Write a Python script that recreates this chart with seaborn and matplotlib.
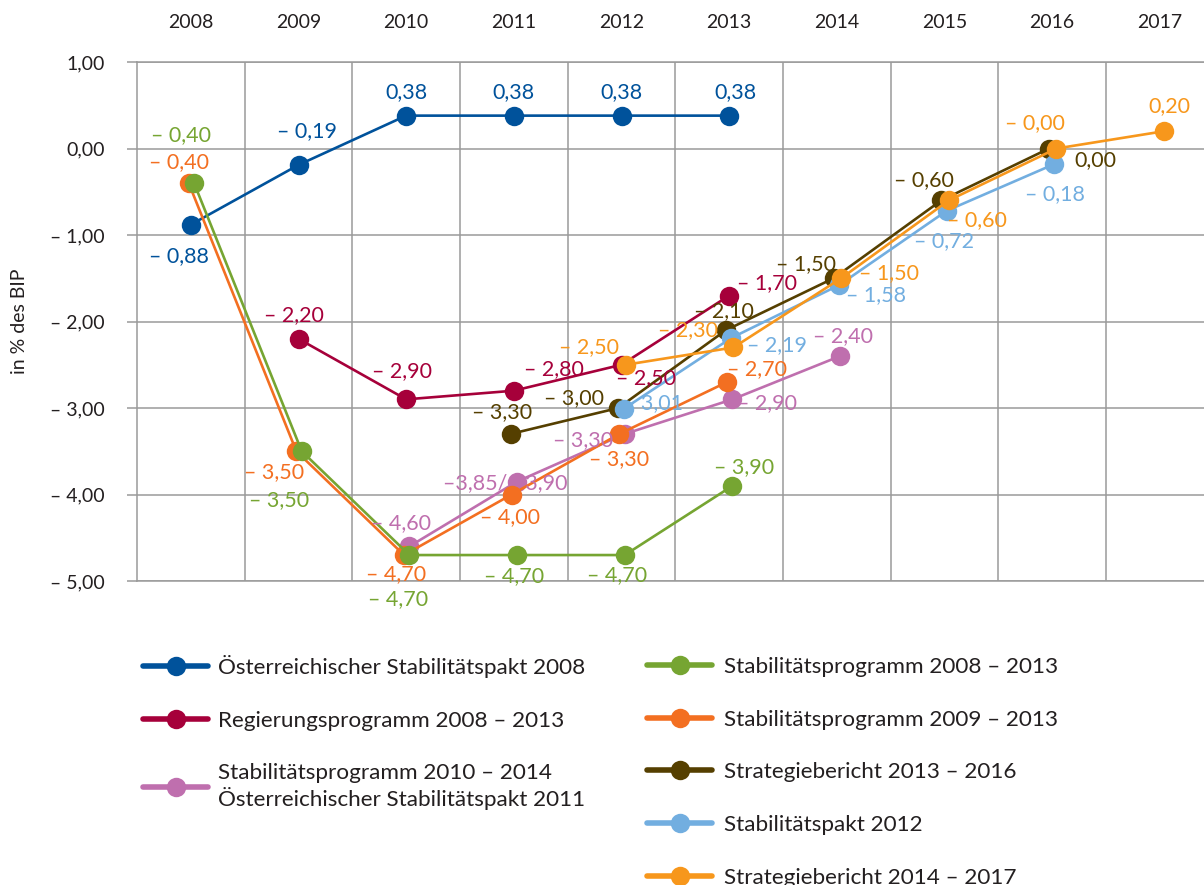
import matplotlib
matplotlib.use('Agg')
import matplotlib.pyplot as plt
from matplotlib.lines import Line2D
import seaborn as sns

# x axis categories
years = [2008, 2009, 2010, 2011, 2012, 2013, 2014, 2015, 2016, 2017]

# series (budget balance in % of GDP)
stp08_years = [2008, 2009, 2010, 2011, 2012, 2013]
stp08_vals = [-0.88, -0.19, 0.38, 0.38, 0.38, 0.38]

reg_years = [2009, 2010, 2011, 2012, 2013]
reg_vals = [-2.20, -2.90, -2.80, -2.50, -1.70]

sp10_years = [2010, 2011, 2012, 2013, 2014]
sp10_vals = [-4.60, -3.85, -3.30, -2.90, -2.40]

sp09_years = [2008, 2009, 2010, 2011, 2012, 2013]
sp09_vals = [-0.40, -3.50, -4.70, -4.00, -3.30, -2.70]

sp08_years = [2008, 2009, 2010, 2011, 2012, 2013]
sp08_vals = [-0.40, -3.50, -4.70, -4.70, -4.70, -3.90]

sb13_years = [2011, 2012, 2013, 2014, 2015, 2016]
sb13_vals = [-3.30, -3.00, -2.10, -1.50, -0.60, 0.00]

stp12_years = [2012, 2013, 2014, 2015, 2016]
stp12_vals = [-3.01, -2.19, -1.58, -0.72, -0.18]

sb14_years = [2012, 2013, 2014, 2015, 2016, 2017]
sb14_vals = [-2.50, -2.30, -1.50, -0.60, 0.00, 0.20]

# labels that differ from the plain value
label_override = {('sp10', 2011): '–3,85/– 3,90', ('sb14', 2016): '– 0,00'}

# drawing order (later on top): key, name, years, values, colour, x shift, label offsets in px
series = [
    ('stp08', 'Österreichischer Stabilitätspakt 2008', stp08_years, stp08_vals, '#00529b', 0.0,
     [(-12, -31), (8, 34), (0, 24), (0, 24), (0, 24), (6, 24)]),
    ('reg', 'Regierungsprogramm 2008 – 2013', reg_years, reg_vals, '#a6003a', 0.0,
     [(-5, 24), (-4, 28), (40, 22), (24, -13), (38, 12)]),
    ('sp10', 'Stabilitätsprogramm 2010 – 2014\nÖsterreichischer Stabilitätspakt 2011', sp10_years, sp10_vals, '#bf6fae', 0.03,
     [(-8, 23), (-12, -2), (-42, -6), (35, -4), (3, 20)]),
    ('sp09', 'Stabilitätsprogramm 2009 – 2013', sp09_years, sp09_vals, '#f36f21', -0.02,
     [(-10, 21), (-22, -21), (-8, -19), (-2, -23), (0, -25), (30, 13)]),
    ('sp08', 'Stabilitätsprogramm 2008 – 2013', sp08_years, sp08_vals, '#76a532', 0.03,
     [(-13, 48), (-23, -49), (-11, -44), (-3, -21), (-8, -20), (12, 19)]),
    ('sb13', 'Strategiebericht 2013 – 2016', sb13_years, sb13_vals, '#553f00', -0.03,
     [(-9, 22), (-44, 10), (-2, 19), (-28, 14), (-17, 20), (46, -12)]),
    ('stp12', 'Stabilitätspakt 2012', stp12_years, stp12_vals, '#72aee0', 0.02,
     [(29, 6), (46, -7), (37, -10), (-3, -30), (1, -30)]),
    ('sb14', 'Strategiebericht 2014 – 2017', sb14_years, sb14_vals, '#f7971c', 0.04,
     [(-37, 18), (-45, 17), (48, 5), (28, -20), (-22, 25), (5, 25)]),
]


def fmt(v):
    s = '%.2f' % abs(v)
    s = s.replace('.', ',')
    return ('– ' + s) if v < 0 else s


sns.set_theme(style='white')
plt.rcParams['font.family'] = ['Lato', 'DejaVu Sans']
text_col = '#231f20'
grid_col = '#9a9a9a'

W, H = 1204, 885
fig = plt.figure(figsize=(W / 100, H / 100), dpi=100)
ax = fig.add_axes([137 / W, 1 - 581 / H, 1 - 137 / W, (581 - 62) / H])

handles = {}
for z, (key, name, xs, vals, col, shift, offs) in enumerate(series):
    xpos = [x + shift for x in xs]
    sns.lineplot(x=xpos, y=vals, ax=ax, color=col, linewidth=1.9, marker='o',
                 markersize=14, markeredgewidth=0, legend=False, zorder=3 + z)
    for x, v, (dx, dy) in zip(xpos, vals, offs):
        lab = label_override.get((key, int(round(x))), fmt(v))
        ax.annotate(lab, (x, v), xytext=(dx, dy), textcoords='offset pixels',
                    ha='center', va='center', color=col, fontsize=15.5, zorder=20)
    handles[key] = Line2D([], [], color=col, linewidth=4, solid_capstyle='round',
                          marker='o', markersize=14, markeredgewidth=0)

ax.set_xlim(2007.5, 2017.41)
ax.set_ylim(-5, 1)
ax.set_xticks(years)
ax.set_xticklabels([str(y) for y in years])
ax.set_xticks([y + 0.5 for y in years[:-1]], minor=True)
ax.xaxis.tick_top()
ax.tick_params(axis='x', which='both', length=0, pad=22, labelsize=14, labelcolor=text_col)

yt = [1, 0, -1, -2, -3, -4, -5]
ax.set_yticks(yt)
ax.set_yticklabels([fmt(v) for v in yt])
ax.tick_params(axis='y', length=7, width=1.1, color=grid_col, pad=16, labelsize=14,
               labelcolor=text_col, left=True)
ax.set_ylabel('in % des BIP', fontsize=14, color=text_col, labelpad=16)

ax.grid(axis='y', which='major', color=grid_col, linewidth=1.1)
ax.grid(axis='x', which='minor', color=grid_col, linewidth=1.1)
for s in ['top', 'bottom', 'left']:
    ax.spines[s].set_color(grid_col)
    ax.spines[s].set_linewidth(1.1)
ax.spines['right'].set_visible(False)

left_keys = ['stp08', 'reg', 'sp10']
right_keys = ['sp08', 'sp09', 'sb13', 'stp12', 'sb14']
names = {s[0]: s[1] for s in series}

leg1 = fig.legend([handles[k] for k in left_keys], [names[k] for k in left_keys],
                  loc='upper left', bbox_to_anchor=(143 / W, 1 - 655 / H), frameon=False,
                  fontsize=16.2, handlelength=2.9, handletextpad=0.45, labelspacing=1.45,
                  borderpad=0, borderaxespad=0, labelcolor=text_col)
leg2 = fig.legend([handles[k] for k in right_keys], [names[k] for k in right_keys],
                  loc='upper left', bbox_to_anchor=(647 / W, 1 - 657 / H), frameon=False,
                  fontsize=16.2, handlelength=2.9, handletextpad=0.5, labelspacing=1.45,
                  borderpad=0, borderaxespad=0, labelcolor=text_col)

fig.savefig('out.png', dpi=100)
